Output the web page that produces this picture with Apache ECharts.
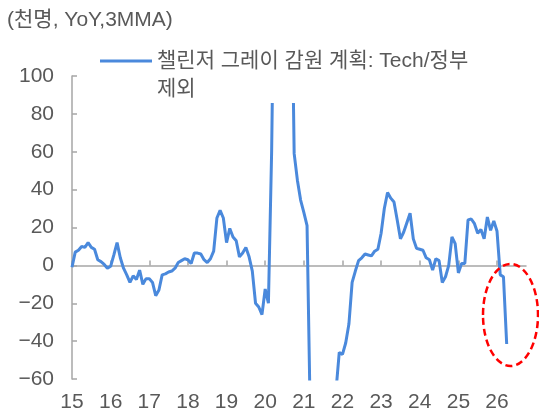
<!DOCTYPE html>
<html>
<head>
<meta charset="utf-8">
<script src="https://cdn.jsdelivr.net/npm/echarts@6/dist/echarts.min.js"></script>
<style>
  html, body { margin: 0; padding: 0; background: #fff; }
  #chart { width: 539px; height: 416px; }
</style>
</head>
<body>
<div id="chart"></div>
<script>
// 월별 시계열 (2015-01 ~ 2026-04), 축은 2026-10 까지
const startYear = 2015
const axisMonths = 142
const seriesName = '챌린저 그레이 감원 계획: Tech/정부 제외'
const jobCuts = [
  -1, 7, 8, 10, 9.5, 12, 9.5, 8.5, 3, 2, 0.5, -1.5,
  -0.5, 5.5, 12, 4, -1.5, -5, -9, -5.5, -7.5, -2.5, -10, -7,
  -7, -9, -16, -13, -5, -4.5, -3.5, -3, -1.5, 1.5, 2.5, 3.5,
  3, 1, 6.5, 6.5, 6, 3, 1.5, 3.5, 7.5, 25, 29, 25,
  12, 19.5, 15, 13, 4.5, 6.5, 9.5, 4.5, -3, -20, -22, -26,
  -12.5, -20, 60, 190, 330, 350, 280, 220, 180, 59, 45, 34.5,
  28, 21, -80, -300, -330, -260, -190, -140, -110, -90, -66, -46,
  -47, -41, -31, -9, -3, 2.5, 4, 6, 5.5, 5, 7.5, 8.5,
  17, 30, 38.5, 35.5, 33.5, 24, 14, 17.5, 22.5, 27.5, 14, 9,
  8.5, 8, 4, 3, -2.5, 3.5, 2.5, -9, -6, 0, 15, 11.5,
  -4, 1, 1, 24, 24.5, 22, 17, 19, 14, 25.5, 18.5, 23.5,
  18, -5, -6, -41.5
]

const months = []
for (let i = 0; i < axisMonths; i++) {
  const y = startYear + Math.floor(i / 12)
  const m = (i % 12) + 1
  months.push(y + '-' + (m < 10 ? '0' + m : m))
}

const FONT = '"Liberation Sans", "Noto Sans CJK KR", sans-serif'
const GREY = '#595959'
const AXIS = '#a6a6a6'
const yearTick = (idx) => idx % 12 === 0

const chart = echarts.init(document.getElementById('chart'), null, { renderer: 'canvas' })
chart.setOption({
  animation: false,
  textStyle: { fontFamily: FONT },
  title: {
    text: '(천명, YoY,3MMA)',
    left: 7,
    top: 10,
    padding: 0,
    textStyle: { fontFamily: FONT, fontSize: 21, fontWeight: 'normal', color: GREY }
  },
  legend: {
    left: 100,
    top: 19,
    padding: 0,
    icon: 'rect',
    itemWidth: 52,
    itemHeight: 3,
    selectedMode: false,
    backgroundColor: '#fff',
    data: [seriesName],
    // 빈 첫 줄을 두어 첫 줄 글자가 선 아이콘 높이에 오도록
    formatter: () => '\n챌린저 그레이 감원 계획: Tech/정부\n제외',
    textStyle: {
      fontFamily: FONT,
      fontSize: 21,
      color: GREY,
      lineHeight: 28
    }
  },
  grid: { left: 72, right: 13, top: 76, bottom: 37, containLabel: false },
  xAxis: [{
    type: 'category',
    data: months,
    boundaryGap: false,
    position: 'bottom',
    axisLine: { show: false, onZero: false },
    axisTick: { show: false },
    axisLabel: {
      interval: yearTick,
      margin: 13,
      fontSize: 21,
      color: GREY,
      formatter: (v) => v.slice(2, 4)
    }
  }, {
    type: 'category',
    data: months,
    boundaryGap: false,
    position: 'top',
    axisLine: { show: true, onZero: true, lineStyle: { color: AXIS, width: 1.5 } },
    axisTick: { show: true, interval: yearTick, length: 5, lineStyle: { color: AXIS, width: 1.5 } },
    axisLabel: { show: false }
  }],
  yAxis: {
    type: 'value',
    min: -60,
    max: 100,
    interval: 20,
    splitLine: { show: false },
    axisLine: { show: true, lineStyle: { color: AXIS, width: 1.5 } },
    axisTick: { show: true, inside: true, length: 5, lineStyle: { color: AXIS, width: 1.5 } },
    axisLabel: {
      margin: 18,
      fontSize: 21,
      color: GREY,
      formatter: (v) => v < 0 ? '\u2212' + Math.abs(v) : String(v)
    }
  },
  series: [{
    name: seriesName,
    type: 'line',
    xAxisIndex: 0,
    data: jobCuts,
    symbol: 'none',
    clip: true,
    lineStyle: { color: '#4A89DC', width: 3 },
    itemStyle: { color: '#4A89DC' }
  }],
  graphic: [{
    type: 'ellipse',
    shape: { cx: 510.5, cy: 315, rx: 27.5, ry: 51 },
    style: { fill: null, stroke: '#ff0000', lineWidth: 2.5, lineDash: [7, 4] },
    z: 10
  }]
})
</script>
</body>
</html>
